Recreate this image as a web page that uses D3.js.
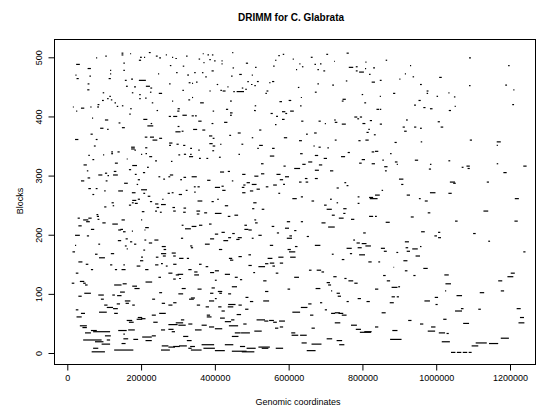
<!DOCTYPE html>
<html>
<head>
<meta charset="utf-8">
<script src="https://cdn.jsdelivr.net/npm/d3@7"></script>
<style>
  body { margin: 0; background: #fff; }
  svg text { font-family: "Liberation Sans", Arial, Helvetica, sans-serif; fill: #000; }
</style>
</head>
<body>
<svg id="chart" width="536" height="407"></svg>
<script>
// Synteny block segments: start / end in kilobases, and the block index (y).
const segStartKb = [
  24,55,78,103,147,147,170,197,194,208,221,240,249,267,284,293,322,367,380,392,385,398,356,369,152,278,313,22,25,60,
  116,116,112,152,194,173,156,246,295,325,344,365,374,391,55,54,159,181,175,195,213,225,224,248,276,312,329,338,349,385,
  405,96,114,108,118,94,128,195,211,229,284,328,338,360,15,37,62,82,81,134,148,170,168,242,299,298,275,287,312,337,
  346,394,24,67,102,139,206,226,217,355,391,63,89,108,148,299,293,310,341,366,384,394,21,77,72,210,224,231,249,276,
  276,296,314,173,173,211,333,385,394,
  447,418,418,448,484,509,558,563,572,584,611,620,629,636,660,670,678,685,694,702,723,757,763,782,782,791,807,808,818,829,
  444,466,500,488,498,507,514,434,421,450,459,473,482,537,540,547,555,625,633,671,678,718,755,746,744,798,805,825,838,441,
  430,441,506,508,575,600,582,591,604,631,551,566,582,425,439,462,500,520,563,587,634,647,628,669,681,698,723,725,744,778,
  786,793,800,820,816,811,831,725,705,681,667,789,808,472,520,555,515,414,415,441,
  863,929,915,936,900,847,1008,956,883,974,974,847,1001,1033,1048,1089,1089,1195,1187,1209,
  1206,952,940,965,983,847,1034,1050,918,847,909,913,940,956,1004,1012,887,958,1091,1164,1164,
  57,97,119,119,136,182,200,212,222,161,68,44,129,238,281,301,316,330,333,357,377,355,393,176,216,167,53,84,102,109,
  126,124,55,104,37,183,191,205,247,260,278,274,306,315,337,379,154,188,57,77,100,68,138,175,200,206,218,257,272,283,
  302,321,343,353,344,353,391,176,175,183,167,191,120,123,100,224,238,254,242,238,251,285,287,315,314,350,351,371,202,147,
  200,28,43,57,51,80,79,82,30,64,95,122,138,144,151,175,211,209,21,53,84,137,158,170,181,156,161,209,221,236,
  206,256,261,254,259,283,287,303,324,333,335,373,387,384,319,337,357,310,308,21,14,75,86,118,200,240,
  464,411,549,631,671,695,742,760,798,825,825,525,586,653,682,712,791,414,435,474,507,525,567,590,615,637,671,644,628,646,
  671,576,585,558,538,486,500,477,473,513,495,474,400,418,420,446,572,610,633,662,696,712,730,703,748,787,787,820,751,757,
  730,504,527,501,427,400,406,435,453,507,480,480,491,509,554,595,590,615,568,633,689,707,717,736,769,400,418,436,447,462,
  423,458,500,518,595,602,617,649,671,549,597,601,604,572,543,464,491,411,438,757,775,784,798,808,787,766,791,717,744,818,
  818,748,802,
  834,875,854,888,893,942,983,980,859,861,1033,1069,1082,1085,1164,1182,1236,899,905,1037,
  1046,1137,852,834,834,920,983,1033,953,969,1213,1128,977,834,863,931,1051,1212,959,995,
  1005,1005,1100,1141,915,917,935,920,956,944,850,858,892,1236,
  30,50,64,23,12,34,43,48,30,46,116,129,152,188,197,147,211,238,254,267,287,274,294,299,287,303,328,344,357,375,
  387,344,247,212,127,150,176,182,143,122,135,156,158,91,100,107,124,127,86,134,176,230,249,256,274,287,301,310,330,335,
  353,351,375,384,387,391,378,378,25,37,161,167,191,188,200,233,249,274,294,301,308,254,274,283,41,48,64,70,102,43,
  75,107,138,165,152,147,179,203,212,229,256,254,274,287,303,328,335,333,364,369,314,324,70,66,127,346,364,384,328,152,
  93,34,23,84,229,
  441,491,518,536,549,556,576,565,504,427,400,454,468,400,531,615,655,676,689,721,751,762,778,703,707,816,446,408,412,436,
  536,597,673,730,733,715,400,409,436,435,464,483,495,531,482,459,418,414,427,444,438,400,513,534,547,558,574,507,454,471,
  446,427,468,486,518,527,565,400,446,473,607,608,631,635,662,649,703,730,737,769,782,793,735,744,725,715,698,610,633,653,
  658,662,725,805,757,787,811,685,477,563,576,
  843,911,965,884,856,938,915,866,879,897,834,1022,1025,1024,1055,996,998,968,879,893,
  874,852,834,881,875,924,956,986,977,1007,1028,1015,1019,1051,1067,1073,1114,1040,1056,1072,
  1088,1096,1107,1143,1175,1118,1175,1168,1193,1202,1218,1227,1223
];
const segEndKb = [
  34,64,81,107,152,152,173,202,200,211,226,245,254,270,287,297,326,370,384,396,389,402,360,372,156,282,317,25,31,64,
  119,119,118,156,213,178,161,249,299,330,348,369,378,397,60,60,164,186,179,199,224,230,228,257,280,316,334,341,353,389,
  409,100,118,112,122,99,132,199,215,233,287,333,341,370,18,46,66,87,86,138,152,175,172,246,305,304,281,298,324,343,
  351,398,27,70,111,144,217,230,233,364,396,69,98,112,156,304,307,315,352,374,393,399,30,82,77,217,235,244,257,285,
  281,302,320,183,183,217,338,394,401,
  450,421,421,452,490,513,562,567,576,588,614,623,632,640,665,674,682,689,699,707,725,763,775,787,787,804,810,811,822,834,
  448,473,503,492,502,511,519,437,429,454,479,477,487,541,545,551,561,629,636,676,682,723,759,755,749,802,810,834,845,446,
  436,448,511,512,582,607,591,596,614,635,557,571,589,434,444,470,504,526,567,596,640,652,636,676,687,701,728,732,755,786,
  791,799,808,826,820,817,836,730,709,687,671,795,817,477,530,562,519,418,419,446,
  867,932,918,940,903,852,1015,961,889,979,978,850,1005,1036,1052,1094,1093,1199,1192,1212,
  1211,958,945,971,990,851,1040,1053,923,853,915,920,946,961,1010,1019,893,962,1097,1175,1167,
  61,100,124,124,142,186,203,216,230,164,73,53,137,243,285,306,322,341,337,362,382,359,398,189,221,173,57,95,108,113,
  133,137,62,109,46,188,197,211,252,265,287,279,311,322,351,388,164,192,64,82,104,73,151,185,216,211,225,261,278,288,
  311,326,348,359,348,366,397,187,180,191,173,197,126,127,106,230,247,267,249,243,256,292,294,322,321,360,358,379,209,156,
  203,34,57,66,61,86,84,87,39,73,104,137,146,151,158,178,221,212,34,59,89,146,164,176,187,161,164,214,230,247,
  211,267,268,268,267,294,294,315,330,339,341,386,398,391,335,350,366,315,314,24,21,82,102,127,205,247,
  468,416,561,638,680,704,753,766,807,832,834,532,592,664,691,721,798,425,441,483,518,534,578,601,631,646,682,651,635,653,
  679,585,590,568,545,495,513,483,480,522,504,483,414,424,429,450,577,622,639,669,703,717,734,717,757,792,792,834,756,762,
  736,513,534,507,436,418,411,442,463,512,487,491,500,516,561,604,601,621,574,639,700,725,725,749,778,409,427,444,454,473,
  436,467,505,527,609,609,624,655,686,558,606,618,619,586,556,473,498,420,447,771,780,793,811,823,798,772,807,722,751,829,
  829,754,809,
  843,879,858,895,896,951,987,986,868,866,1038,1074,1091,1091,1168,1191,1245,911,911,1051,
  1053,1143,856,847,841,929,998,1042,958,977,1224,1141,984,839,874,939,1058,1221,969,1002,
  1013,1011,1107,1146,926,924,950,929,960,956,861,866,897,1242,
  41,57,70,30,19,46,50,55,39,64,122,135,156,198,206,158,220,247,259,272,296,285,303,314,294,308,337,353,364,382,
  398,357,254,230,147,161,189,196,156,129,147,171,167,99,109,124,137,137,107,143,183,238,257,265,285,296,314,321,343,346,
  364,360,384,398,396,400,387,391,39,48,176,180,203,203,212,245,267,299,314,321,317,265,288,292,53,64,80,116,118,93,
  98,116,161,183,156,158,192,229,229,240,274,278,292,305,324,337,364,346,398,400,328,337,84,102,179,364,378,398,339,165,
  116,53,30,99,240,
  450,500,536,545,561,563,585,572,509,441,411,462,474,405,540,628,662,688,696,730,757,775,787,712,715,825,460,420,419,444,
  545,604,686,739,742,718,405,418,456,450,473,491,504,547,491,471,427,427,444,453,463,420,536,545,560,568,590,527,470,495,
  464,450,482,511,549,545,585,427,486,507,618,626,649,649,689,673,718,745,751,785,796,823,748,757,739,726,704,631,651,662,
  667,671,740,825,763,796,820,691,486,572,585,
  848,922,977,886,863,944,922,875,895,902,843,1034,1040,1027,1070,1005,1004,983,888,899,
  885,863,843,895,906,933,965,998,997,1024,1034,1037,1028,1070,1074,1089,1121,1052,1068,1084,
  1096,1114,1137,1168,1197,1130,1184,1179,1209,1213,1229,1238,1239
];
const segBlock = [
  488,481,499,502,504,507,506,500,495,500,508,502,499,504,500,498,502,506,504,504,496,494,497,491,490,486,485,470,464,468,
  478,472,464,478,461,463,461,472,474,470,474,474,467,477,455,445,451,450,440,437,451,448,441,439,455,444,457,456,458,443,
  454,440,434,430,428,427,423,430,431,423,426,428,432,423,416,414,416,420,416,417,418,413,404,410,413,409,400,400,402,401,
  401,409,409,397,394,389,395,388,384,392,388,370,380,378,381,383,374,375,378,377,367,363,361,361,350,365,365,360,363,355,
  351,353,351,348,345,347,346,354,350,
  508,494,489,482,490,483,485,495,503,505,497,479,489,484,500,488,479,489,477,505,493,507,483,484,477,475,481,492,471,482,
  468,471,470,459,454,452,459,450,443,442,442,448,446,439,443,457,459,449,432,441,455,453,460,429,426,437,423,458,412,426,
  412,406,410,418,425,427,408,405,409,418,405,400,395,390,368,372,364,377,386,364,392,370,359,372,392,388,394,390,387,399,
  396,399,388,393,378,373,369,360,347,348,350,359,360,353,351,346,346,353,444,402,
  495,486,472,467,463,461,466,454,439,443,439,434,434,440,433,499,452,486,453,445,
  420,427,419,415,413,412,410,417,394,387,382,375,382,380,391,382,356,357,360,357,351,
  334,335,340,337,340,343,336,337,332,328,327,318,321,325,324,335,336,332,336,329,329,343,342,317,314,310,308,301,304,300,
  307,301,296,291,291,302,293,305,298,294,301,298,293,297,298,292,287,285,278,278,274,268,274,271,276,270,265,260,270,271,
  268,275,281,281,272,257,256,258,254,253,250,260,254,249,247,256,252,251,246,240,238,246,240,245,238,240,235,237,239,225,
  225,228,225,228,222,231,234,226,215,209,220,218,208,209,205,206,212,208,199,198,184,190,193,188,184,181,176,191,186,191,
  174,180,175,168,164,169,164,160,160,181,178,184,193,218,210,214,216,216,194,182,171,167,161,168,162,162,
  336,331,333,337,334,329,332,339,327,340,320,320,316,323,318,308,321,306,307,302,299,303,302,298,312,319,309,295,289,289,
  295,293,285,284,281,288,285,284,280,277,274,271,280,282,275,291,270,261,264,257,250,260,254,243,244,264,253,261,288,283,
  279,254,243,244,249,236,260,231,233,225,216,209,208,220,214,222,211,207,203,222,220,213,233,228,226,201,204,195,202,195,
  190,192,194,199,194,198,180,197,182,182,175,171,162,162,160,163,166,175,160,177,191,186,185,181,178,168,166,167,158,231,
  263,236,203,
  341,337,326,323,319,326,319,311,315,308,325,314,316,312,320,305,316,294,285,289,
  287,289,275,267,261,267,271,270,261,257,261,240,237,231,221,230,223,223,205,198,
  195,204,202,189,188,178,176,172,180,164,177,172,170,171,
  154,150,141,135,118,121,118,115,96,101,149,141,149,147,156,141,141,149,151,147,150,135,132,133,125,126,141,137,150,146,
  136,132,128,120,115,117,113,109,103,98,97,88,84,91,81,77,75,67,69,83,81,91,102,84,81,85,100,109,91,93,
  108,81,78,88,101,110,64,61,61,67,55,52,60,57,58,52,67,48,51,47,56,39,40,36,43,34,38,36,29,22,
  19,22,38,39,32,16,23,27,21,29,12,5,10,11,12,8,5,11,14,8,28,21,8,2,5,39,47,44,49,24,
  15,46,73,98,64,
  157,148,146,151,152,147,152,135,136,133,139,128,124,123,122,128,140,140,137,129,126,122,118,119,115,154,112,104,101,100,
  104,108,109,101,96,105,92,78,82,78,81,94,87,88,74,65,71,59,53,56,46,41,56,54,55,52,54,37,34,34,
  28,14,11,8,10,8,8,4,3,2,34,30,30,17,15,4,24,21,14,47,40,35,67,64,68,67,73,69,77,83,
  64,42,51,36,87,92,87,85,49,42,44,
  154,156,143,145,131,131,139,122,111,112,108,132,117,105,97,94,82,88,95,95,
  85,68,44,38,23,55,49,44,37,34,33,19,57,71,75,50,74,1,1,1,
  1,12,17,16,25,102,105,122,129,135,75,60,51
];

const xTickValues = [0, 200000, 400000, 600000, 800000, 1000000, 1200000];
const yTickValues = [0, 100, 200, 300, 400, 500];
const chartTitle = "DRIMM for C. Glabrata";
const xAxisTitle = "Genomic coordinates";
const yAxisTitle = "Blocks";

const segments = d3.range(segBlock.length).map(i => ({
  start: segStartKb[i] * 1000,
  end: segEndKb[i] * 1000,
  block: segBlock[i]
}));

// Plot region (frame) in pixels
const frame = { left: 54.5, right: 535.5, top: 39.5, bottom: 364.5 };

const x = d3.scaleLinear().domain([0, 1200000]).range([67.3, 510]);
const y = d3.scaleLinear().domain([0, 500]).range([353, 57.3]);

const svg = d3.select("#chart");

// segments
svg.append("g")
  .attr("stroke", "#000")
  .attr("stroke-width", 1.2)
  .selectAll("line")
  .data(segments)
  .join("line")
  .attr("x1", d => x(d.start))
  .attr("x2", d => x(d.end))
  .attr("y1", d => y(d.block))
  .attr("y2", d => y(d.block));

// frame
svg.append("rect")
  .attr("x", frame.left).attr("y", frame.top)
  .attr("width", frame.right - frame.left)
  .attr("height", frame.bottom - frame.top)
  .attr("fill", "none").attr("stroke", "#000").attr("stroke-width", 1);

// x axis (ticks below the frame)
const xAxis = d3.axisBottom(x)
  .tickValues(xTickValues)
  .tickFormat(d3.format("d"))
  .tickSize(6)
  .tickPadding(4);
const gx = svg.append("g")
  .attr("transform", `translate(0,${frame.bottom})`)
  .call(xAxis);
gx.select(".domain").remove();
gx.selectAll("text").attr("font-size", 9).attr("font-family", null);

// y axis (ticks left of the frame, labels parallel to the axis)
const yAxis = d3.axisLeft(y)
  .tickValues(yTickValues)
  .tickFormat(d3.format("d"))
  .tickSize(6)
  .tickPadding(4);
const gy = svg.append("g")
  .attr("transform", `translate(${frame.left},0)`)
  .call(yAxis);
gy.select(".domain").remove();
gy.selectAll(".tick text")
  .attr("font-size", 9).attr("font-family", null)
  .attr("x", null).attr("dy", null)
  .attr("text-anchor", "middle")
  .attr("transform", "translate(-13,0) rotate(-90)");

// titles
svg.append("text")
  .attr("x", 291).attr("y", 21)
  .attr("text-anchor", "middle")
  .attr("font-size", 10).attr("font-weight", "bold")
  .text(chartTitle);

svg.append("text")
  .attr("x", 298).attr("y", 405)
  .attr("text-anchor", "middle")
  .attr("font-size", 9)
  .text(xAxisTitle);

svg.append("text")
  .attr("transform", "translate(23,201) rotate(-90)")
  .attr("text-anchor", "middle")
  .attr("font-size", 9)
  .text(yAxisTitle);
</script>
</body>
</html>
